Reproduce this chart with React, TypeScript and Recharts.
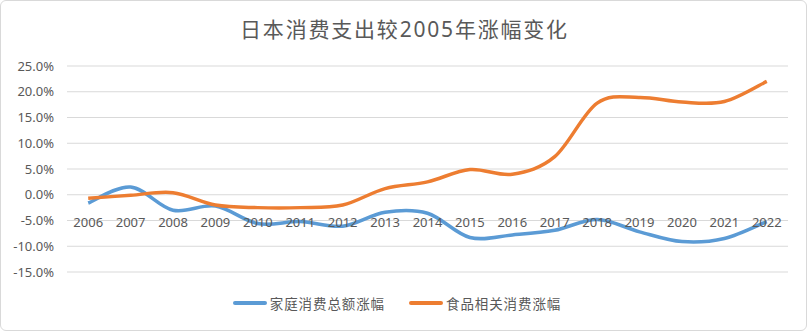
import React from 'react';
import { LineChart, Line, XAxis, YAxis, CartesianGrid, Legend } from 'recharts';

const years = ['2006','2007','2008','2009','2010','2011','2012','2013','2014','2015','2016','2017','2018','2019','2020','2021','2022'];
const household = [-1.6, 1.5, -3.0, -2.2, -5.6, -5.2, -6.1, -3.4, -3.6, -8.3, -7.8, -6.9, -4.8, -7.2, -9.1, -8.5, -5.2];
const food = [-0.7, -0.1, 0.4, -2.0, -2.5, -2.5, -2.0, 1.2, 2.5, 4.9, 4.0, 7.4, 17.8, 18.9, 18.0, 18.1, 22.0];
const yTicks = [-15, -10, -5, 0, 5, 10, 15, 20, 25];
const title = '日本消费支出较2005年涨幅变化';
const householdName = '家庭消费总额涨幅';
const foodName = '食品相关消费涨幅';

const data = years.map((y, i) => ({ year: y, household: household[i], food: food[i] }));

const FONT = '"Noto Sans", "Noto Sans CJK SC", sans-serif';
const TEXT = '#595959';

// Excel-like smoothing (Catmull-Rom style Bezier)
const excelSmooth: any = (context: any) => {
  let pts: number[][] = [];
  return {
    areaStart() {},
    areaEnd() {},
    lineStart() { pts = []; },
    lineEnd() {
      const n = pts.length;
      if (!n) return;
      context.moveTo(pts[0][0], pts[0][1]);
      for (let i = 0; i < n - 1; i++) {
        const p0 = pts[i - 1] || pts[i];
        const p1 = pts[i];
        const p2 = pts[i + 1];
        const p3 = pts[i + 2] || p2;
        context.bezierCurveTo(
          p1[0] + (p2[0] - p0[0]) / 6, p1[1] + (p2[1] - p0[1]) / 6,
          p2[0] - (p3[0] - p1[0]) / 6, p2[1] - (p3[1] - p1[1]) / 6,
          p2[0], p2[1]
        );
      }
    },
    point(x: number, y: number) { pts.push([+x, +y]); },
  };
};

const XTick = (props: any) => {
  const { x, y, payload } = props;
  return (
    <text x={x} y={y - 58} textAnchor="middle" dominantBaseline="central" fill={TEXT} fontSize={13} fontFamily={FONT}>
      {payload.value}
    </text>
  );
};

const LegendContent = (props: any) => {
  const items = props.payload || [];
  return (
    <div style={{ display: 'flex', justifyContent: 'center', alignItems: 'center', height: 20, gap: 24, paddingLeft: 6 }}>
      {items.map((it: any) => (
        <div key={it.value} style={{ display: 'flex', alignItems: 'center' }}>
          <div style={{ width: 34, height: 4, background: it.color, borderRadius: 2, marginRight: 3 }} />
          <span style={{ fontFamily: FONT, fontSize: 13.5, color: TEXT, letterSpacing: 0.9 }}>{it.value}</span>
        </div>
      ))}
    </div>
  );
};

export default function App() {
  return (
    <div style={{ position: 'absolute', left: 0, top: 0, width: 807, height: 331, boxSizing: 'border-box', border: '1px solid #d9d9d9', borderRadius: 6, background: '#fff', overflow: 'hidden' }}>
      <div style={{ position: 'absolute', left: 0, top: 14, width: 807, textAlign: 'center', fontFamily: FONT, fontSize: 21, color: TEXT, letterSpacing: 1.8, lineHeight: '28px' }}>
        {title}
      </div>
      <div style={{ position: 'absolute', left: -1, top: -1 }}>
        <LineChart width={807} height={331} data={data} margin={{ top: 66, right: 19, left: 0, bottom: 18 }}>
          <CartesianGrid vertical={false} stroke="#d9d9d9" strokeWidth={1} />
          <XAxis dataKey="year" scale="band" axisLine={false} tickLine={false} height={21} interval={0} tick={<XTick />} />
          <YAxis
            domain={[-15, 25]}
            ticks={yTicks}
            width={67}
            axisLine={false}
            tickLine={false}
            tickSize={0}
            tickMargin={13}
            tick={{ fill: TEXT, fontSize: 13, fontFamily: FONT }}
            tickFormatter={(v: number) => v.toFixed(1) + '%'}
            allowDataOverflow
          />
          <Legend verticalAlign="bottom" align="center" content={<LegendContent />} />
          <Line type={excelSmooth} dataKey="household" name={householdName} stroke="#5b9bd5" strokeWidth={3.5} dot={false} isAnimationActive={false} />
          <Line type={excelSmooth} dataKey="food" name={foodName} stroke="#ed7d31" strokeWidth={3.5} dot={false} isAnimationActive={false} />
        </LineChart>
      </div>
    </div>
  );
}
